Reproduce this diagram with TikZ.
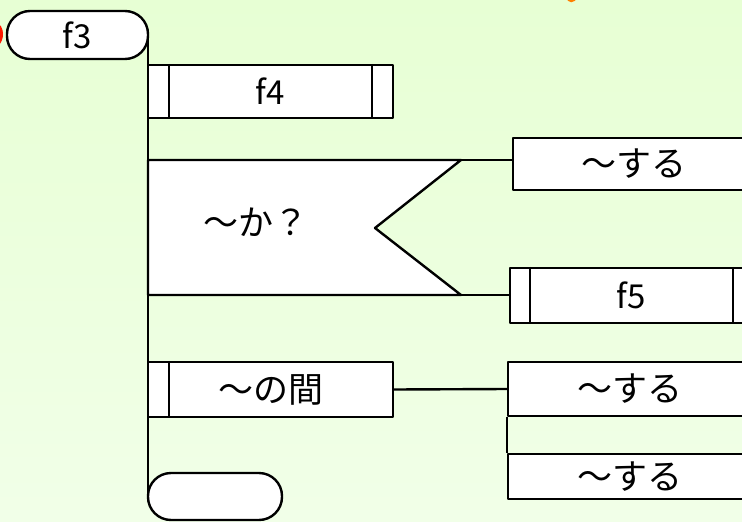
\documentclass[tikz,border=0pt]{standalone}
\usepackage{fontspec}
\setmainfont{Noto Sans CJK JP}
\usetikzlibrary{calc}
\definecolor{bgtop}{RGB}{231,255,212}
\definecolor{bgbot}{RGB}{241,255,232}
\tikzset{
  line/.style={line width=2.4pt, line join=round},
  box/.style={line, draw=black, fill=white, rectangle, inner sep=0pt, font=\fontsize{35}{35}\selectfont},
  term/.style={box, rounded corners=23pt},
  lbl/.style={inner sep=0pt, font=\fontsize{35}{35}\selectfont},
  latin/.style={font=\fontsize{33}{33}\selectfont},
}
\begin{document}
\begin{tikzpicture}[x=1pt,y=-1pt]
\useasboundingbox (0,0) rectangle (742,522);
\clip (0,0) rectangle (742,522);
\shade[top color=bgtop, bottom color=bgbot] (0,0) rectangle (742,522);
% partial marks at the edges
\fill[red!80!orange] (-4,22) .. controls (5,26) and (5,40) .. (-2,46) -- cycle;
\fill[orange] (566,-3) .. controls (568,4) and (574,4) .. (578,-3) -- cycle;

% main line
\coordinate (top) at (148,35);
\coordinate (bot) at (148,497);
\draw[line] (top) -- (bot);

% terminals
\node[term, latin, minimum width=141pt, minimum height=48pt] (f3) at (77.5,35) {f3};
\node[term, minimum width=134pt, minimum height=47pt] (end) at (215,496.5) {};

% f4 predefined process
\node[box, latin, minimum width=245pt, minimum height=53pt] (f4) at (270.5,91.5) {f4};
\draw[line] ([xshift=22pt]f4.north west) -- ([xshift=22pt]f4.south west);
\draw[line] ([xshift=-22pt]f4.north east) -- ([xshift=-22pt]f4.south east);

% condition
\coordinate (ctl) at (148,160);
\coordinate (ctr) at (461,160);
\coordinate (cnotch) at (375,228);
\coordinate (cbr) at (461,295);
\coordinate (cbl) at (148,295);
\draw[line, fill=white] (ctl) -- (ctr) -- (cnotch) -- (cbr) -- (cbl) -- cycle;
\node[lbl] (cond) at (256,222) {〜か？};

% branch: true
\node[box, minimum width=242pt, minimum height=52pt] (s1) at (634,164) {〜する};
\draw[line] (ctr) -- (s1.west |- ctr);
% branch: false
\node[box, latin, minimum width=242pt, minimum height=55pt] (f5) at (631,295.5) {f5};
\draw[line] ([xshift=21pt]f5.north west) -- ([xshift=21pt]f5.south west);
\draw[line] ([xshift=-20pt]f5.north east) -- ([xshift=-20pt]f5.south east);
\draw[line] (cbr) -- (f5.west |- cbr);

% loop
\node[box, minimum width=245pt, minimum height=55pt] (loop) at (270.5,389.5) {〜の間};
\draw[line] ([xshift=22pt]loop.north west) -- ([xshift=22pt]loop.south west);
\node[box, minimum width=244pt, minimum height=54pt] (s2) at (630,389) {〜する};
\node[box, minimum width=244pt, minimum height=45pt] (s3) at (630,476.5) {〜する};
\draw[line] (s2.south west) -- (s3.north west);
\draw[line] (loop.east) -- (s2.west);
\end{tikzpicture}
\end{document}
